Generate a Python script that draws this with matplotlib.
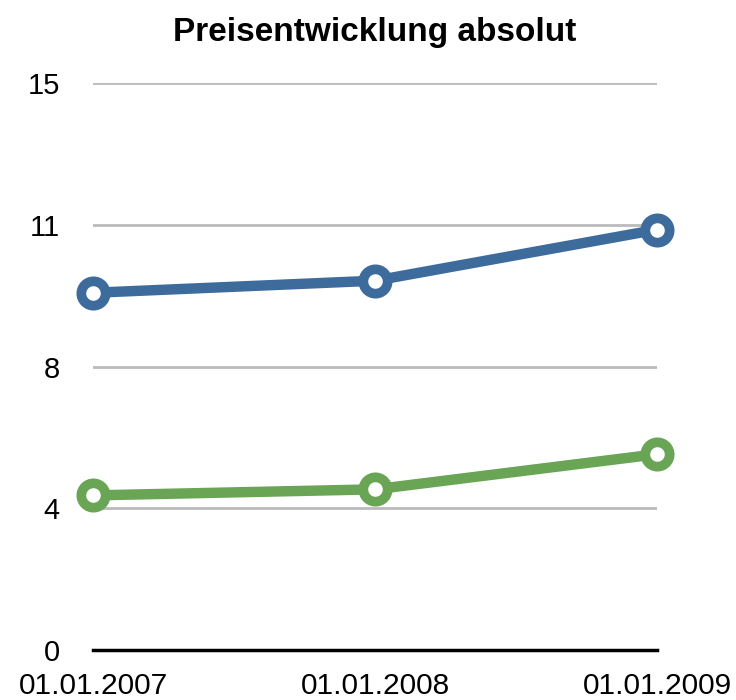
import matplotlib.pyplot as plt

DATES = ["01.01.2007", "01.01.2008", "01.01.2009"]
BLUE_VALUES = [9.45, 9.77, 11.12]
GREEN_VALUES = [4.09, 4.25, 5.18]
Y_TICKS = [0, 3.75, 7.5, 11.25, 15]
Y_LABELS = ["0", "4", "8", "11", "15"]

plt.rcParams["font.family"] = ["Liberation Sans", "DejaVu Sans"]

fig = plt.figure(figsize=(7.36, 7.0), dpi=100)
ax = fig.add_axes([93 / 736, 50 / 700, 564 / 736, 567 / 700])

x = range(len(DATES))
for vals, color in [(BLUE_VALUES, "#3d6b9c"), (GREEN_VALUES, "#6aa556")]:
    ax.plot(x, vals, color=color, linewidth=7.5, marker="o", markersize=17.5,
            markerfacecolor="white", markeredgecolor=color, markeredgewidth=7,
            clip_on=False, zorder=3)

ax.set_xlim(0, 2)
ax.set_ylim(0, 15)
ax.set_yticks(Y_TICKS, Y_LABELS)
ax.set_xticks(list(x), DATES)
ax.tick_params(length=0)
ax.tick_params(axis="y", pad=24, labelsize=21)
ax.tick_params(axis="x", pad=16, labelsize=21.5)

for y in Y_TICKS[1:]:
    ax.axhline(y, color="#bbbbbb", linewidth=2, zorder=1)
ax.axhline(0, color="black", linewidth=2.5, zorder=2, clip_on=False)

for side in ax.spines.values():
    side.set_visible(False)

fig.text(375 / 736, 1 - 32 / 700, "Preisentwicklung absolut", ha="center",
         va="center", fontsize=24, fontweight="bold")

fig.savefig("out.png", dpi=100)
